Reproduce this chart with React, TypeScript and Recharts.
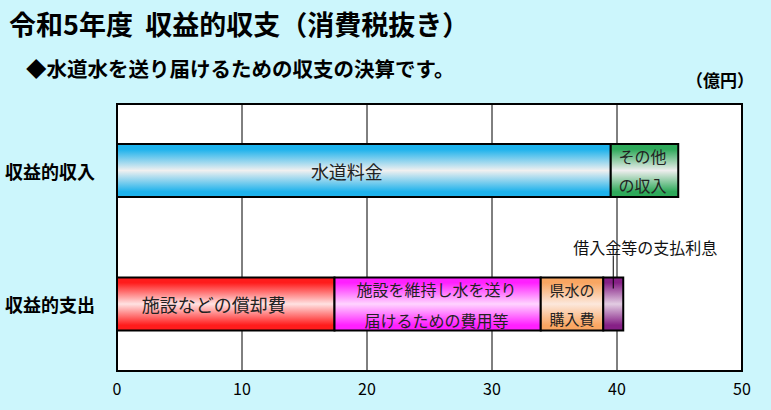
import React from 'react';
import { BarChart, Bar, XAxis, YAxis, CartesianGrid, ReferenceArea, LabelList } from 'recharts';

const categories = ['収益的収入', '収益的支出'];
const waterCharges = [39.5, null];
const otherIncome = [5.4, null];
const depreciation = [null, 17.4];
const maintenance = [null, 16.5];
const prefWater = [null, 5.0];
const interest = [null, 1.6];
const xTicks = [0, 10, 20, 30, 40, 50];

const data = categories.map((name, i) => ({
  name,
  waterCharges: waterCharges[i],
  otherIncome: otherIncome[i],
  depreciation: depreciation[i],
  maintenance: maintenance[i],
  prefWater: prefWater[i],
  interest: interest[i],
}));

const FONT = '"Noto Sans CJK JP", "Noto Sans", sans-serif';

type Series = {
  key: string;
  grad: string;
  edge: string;
  mid: string;
  lines: string[];
  fontSize: number;
  gap: number;
  dx: number;
};

const series: Series[] = [
  { key: 'waterCharges', grad: 'gBlue', edge: '#1DB2EC', mid: '#F0F0F0', lines: ['水道料金'], fontSize: 18, gap: 0, dx: -17 },
  { key: 'otherIncome', grad: 'gGreen', edge: '#2EA95A', mid: '#EEEEEE', lines: ['その他', 'の収入'], fontSize: 16, gap: 29, dx: -2 },
  { key: 'depreciation', grad: 'gRed', edge: '#FF1C1C', mid: '#FFE2E2', lines: ['施設などの償却費'], fontSize: 18, gap: 0, dx: -12 },
  { key: 'maintenance', grad: 'gMagenta', edge: '#FF20FF', mid: '#FFD4FF', lines: ['施設を維持し水を送り', '届けるための費用等'], fontSize: 16, gap: 31, dx: -1 },
  { key: 'prefWater', grad: 'gOrange', edge: '#F9A662', mid: '#FCE8DC', lines: ['県水の', '購入費'], fontSize: 15, gap: 29, dx: 0 },
  { key: 'interest', grad: 'gPurple', edge: '#862086', mid: '#E2CCE2', lines: [], fontSize: 16, gap: 0, dx: 0 },
];

const makeLabel = (s: Series) => (props: any) => {
  const { value } = props;
  if (value == null) return null;
  const vb = props.viewBox || {};
  const x = props.x ?? vb.x;
  const y = props.y ?? vb.y;
  const width = props.width ?? vb.width;
  const height = props.height ?? vb.height;
  const cx = x + width / 2;
  const cy = y + height / 2;
  if (s.key === 'interest') {
    return (
      <g>
        <line x1={cx} y1={y - 22} x2={cx} y2={y + 11} stroke="#000" strokeWidth={1} />
        <text x={cx + 32} y={y - 31} textAnchor="middle" dominantBaseline="central" fontSize={16} fontFamily={FONT} fill="#111">
          借入金等の支払利息
        </text>
      </g>
    );
  }
  const n = s.lines.length;
  return (
    <g>
      {s.lines.map((l, i) => (
        <text
          key={i}
          x={cx + s.dx}
          y={cy + (i - (n - 1) / 2) * s.gap}
          textAnchor="middle"
          dominantBaseline="central"
          fontSize={s.fontSize}
          fontFamily={FONT}
          fill="#222"
        >
          {l}
        </text>
      ))}
    </g>
  );
};

const YTick = (props: any) => {
  const { y, payload } = props;
  return (
    <text x={5} y={y} dominantBaseline="central" fontSize={18} fontWeight="bold" fontFamily={FONT} fill="#000">
      {payload.value}
    </text>
  );
};

const XTick = (props: any) => {
  const { x, payload } = props;
  return (
    <text x={x} y={388} textAnchor="middle" dominantBaseline="central" fontSize={16} fontFamily={FONT} fill="#000">
      {payload.value}
    </text>
  );
};

export default function App() {
  return (
    <div style={{ position: 'absolute', left: 0, top: 0, width: 771, height: 410, background: '#CCF6FC', fontFamily: FONT, overflow: 'hidden' }}>
      <div style={{ position: 'absolute', left: 9, top: 5, fontSize: 27, fontWeight: 'bold', color: '#000', whiteSpace: 'nowrap', lineHeight: '38px' }}>
        令和5年度&nbsp;&nbsp;収益的収支（消費税抜き）
      </div>
      <div style={{ position: 'absolute', left: 26, top: 54, fontSize: 20.5, fontWeight: 'bold', color: '#000', whiteSpace: 'nowrap', lineHeight: '28px' }}>
        ◆水道水を送り届けるための収支の決算です。
      </div>
      <div style={{ position: 'absolute', left: 686, top: 67, fontSize: 17, fontWeight: 'bold', color: '#000', whiteSpace: 'nowrap', lineHeight: '26px' }}>
        （億円）
      </div>
      <div style={{ position: 'absolute', left: 0, top: 0 }}>
        <BarChart
          width={771}
          height={410}
          data={data}
          layout="vertical"
          margin={{ top: 104, right: 29, bottom: 9, left: 7 }}
          barSize={53}
        >
          <defs>
            {series.map((s) => (
              <linearGradient key={s.grad} id={s.grad} x1="0" y1="0" x2="0" y2="1">
                <stop offset="0%" stopColor={s.edge} />
                <stop offset="10%" stopColor={s.edge} />
                <stop offset="50%" stopColor={s.mid} />
                <stop offset="90%" stopColor={s.edge} />
                <stop offset="100%" stopColor={s.edge} />
              </linearGradient>
            ))}
          </defs>
          <CartesianGrid fill="#FFFFFF" stroke="#000" strokeWidth={1} horizontal={false} vertical={true} />
          <XAxis
            type="number"
            domain={[0, 50]}
            ticks={xTicks}
            axisLine={false}
            tickLine={false}
            height={30}
            tick={<XTick />}
          />
          <YAxis type="category" dataKey="name" width={110} axisLine={false} tickLine={false} tick={<YTick />} />
          {series.map((s) => (
            <Bar key={s.key} dataKey={s.key} stackId="a" fill={`url(#${s.grad})`} stroke="#000" strokeWidth={2} isAnimationActive={false}>
              <LabelList dataKey={s.key} content={makeLabel(s)} />
            </Bar>
          ))}
          <ReferenceArea x1={0} x2={50} fill="none" fillOpacity={0} stroke="#000" strokeWidth={2} ifOverflow="visible" />
        </BarChart>
      </div>
    </div>
  );
}
